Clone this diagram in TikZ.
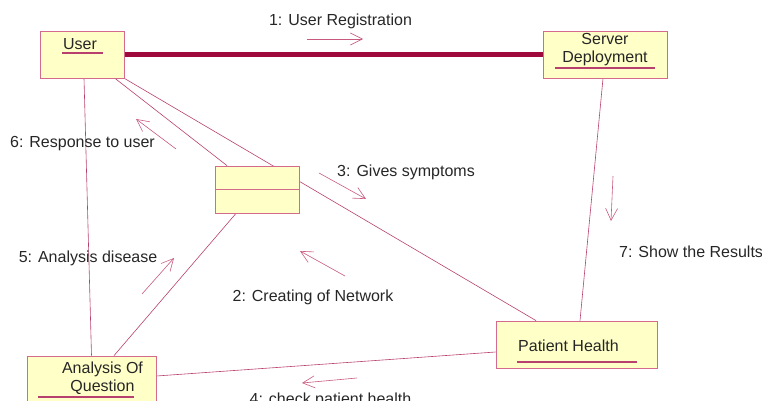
\documentclass[tikz,border=0pt]{standalone}
\usepackage{fontspec}
\setmainfont{Liberation Sans}
\usetikzlibrary{arrows.meta,backgrounds}
\definecolor{objfill}{HTML}{FFFFC8}
\definecolor{objedge}{HTML}{D46A8C}
\definecolor{linkred}{HTML}{B8406E}
\definecolor{msgred}{HTML}{C85A82}
\definecolor{deployred}{HTML}{9E0A3C}

\begin{document}
\begin{tikzpicture}[x=1pt,y=-1pt,>={Straight Barb[length=12pt,width=12pt]},
  font=\fontsize{16}{18}\selectfont,
  obj/.style={draw=objedge,fill=objfill,line width=0.8pt,inner sep=0pt},
  lbl/.style={inner sep=0pt,anchor=base,text=black!85},
  link/.style={draw=linkred,line width=0.6pt},
  msg/.style={draw=msgred,line width=0.6pt,->},
  uline/.style={draw=linkred,line width=1.2pt}]
  \useasboundingbox (0,0) rectangle (762,401);

  % objects
  \node[obj,minimum width=84pt,minimum height=47pt] (user) at (82,54.5) {};
  \node[obj,minimum width=124pt,minimum height=47pt] (server) at (605,54.5) {};
  \node[obj,minimum width=84pt,minimum height=47pt] (mid) at (257,189.5) {};
  \node[obj,minimum width=161pt,minimum height=47pt] (patient) at (576.5,344.5) {};
  \node[obj,minimum width=129pt,minimum height=48pt] (aoq) at (91.5,380) {};
  \draw[draw=objedge,line width=0.8pt] (mid.west) -- (mid.east);

  % object names
  \node[lbl] (usert) at (80,50) {User};
  \node[lbl,anchor=north,align=center] (servert) at (605,33.3) {Server\\Deployment};
  \node[lbl,anchor=base west] (patientt) at (518,351) {Patient Health};
  \node[lbl,anchor=north,align=center] (aoqt) at (102.5,361.3) {Analysis Of\\Question};
  \draw[uline] (62,53) -- (103,53);
  \draw[uline] (555,68) -- (655,68);
  \draw[uline] (517,362) -- (637,362);
  \draw[uline] (38,397) -- (134,397);

  % links
  \begin{scope}[on background layer]
    \draw[draw=deployred,line width=5.5pt] (user.east) -- (server.west);
    \draw[link] ([xshift=33pt]user.south) -- ([xshift=-30pt]mid.north);
    \draw[link] (user.south east) -- ([xshift=-40.5pt]patient.north);
    \draw[link] ([xshift=2pt]user.south) -- (aoq.north);
    \draw[link] ([xshift=-21pt]mid.south) -- ([xshift=22.5pt]aoq.north);
    \draw[link] ([yshift=4pt]aoq.east) -- ([yshift=-7.5pt]patient.west);
    \draw[link] ([xshift=-2pt]server.south) -- ([xshift=3.5pt]patient.north);
  \end{scope}

  % messages
  \foreach \n/\xa/\ya/\xb/\yb in {1/307/39/363/39, 2/345/276/300/251,
      3/319/173/366/199, 4/357/378/302/383, 5/142/294/174/258,
      6/176/149/136/119, 7/613/176/611/221}{
    \coordinate (m\n a) at (\xa,\ya);
    \coordinate (m\n b) at (\xb,\yb);
    \draw[msg] (m\n a) -- (m\n b);
  }
  \node[lbl] (m1t) at (340.5,26) {1: User Registration};
  \node[lbl] (m2t) at (313,301) {2: Creating of Network};
  \node[lbl] (m3t) at (406,176) {3: Gives symptoms};
  \node[lbl] (m4t) at (330.5,404) {4: check patient health};
  \node[lbl] (m5t) at (88,262) {5: Analysis disease};
  \node[lbl] (m6t) at (82.5,147) {6: Response to user};
  \node[lbl,anchor=base west] (m7t) at (619,257) {7: Show the Results};
\end{tikzpicture}
\end{document}
